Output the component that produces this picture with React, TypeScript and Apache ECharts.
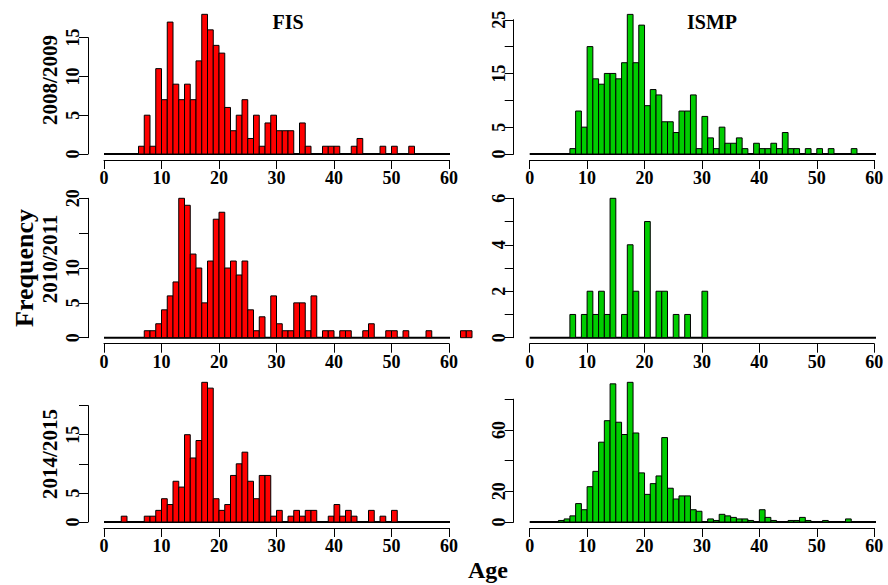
import React, { useEffect, useRef } from "react";
import * as echarts from "echarts";

// Histogram bins: [k, k+1) for k = 0..63 (ages 0 to 64)
const binRange = [0, 64];
const xTicks = [0, 10, 20, 30, 40, 50, 60];
const columnTitles = ["FIS", "ISMP"];
const rowTitles = ["2008/2009", "2010/2011", "2014/2015"];

// counts per bin, starting at bin 0
const fis0809 = [0, 0, 0, 0, 0, 0, 1, 5, 1, 11, 7, 17, 9, 7, 9, 7, 12, 18, 16, 14, 13, 6, 3, 5, 7, 2, 5, 1, 4, 5, 3, 3, 3, 0, 4, 1, 0, 0, 1, 1, 1, 0, 0, 1, 2, 0, 0, 0, 1, 0, 1, 0, 0, 1];
const ismp0809 = [0, 0, 0, 0, 0, 0, 0, 1, 8, 5, 20, 14, 13, 15, 15, 14, 17, 26, 17, 24, 9, 12, 11, 6, 6, 4, 8, 8, 11, 1, 7, 3, 1, 5, 2, 2, 3, 1, 0, 2, 1, 1, 2, 1, 4, 1, 1, 0, 1, 0, 1, 0, 1, 0, 0, 0, 1];
const fis1011 = [0, 0, 0, 0, 0, 0, 0, 1, 1, 2, 4, 6, 8, 20, 19, 12, 10, 5, 11, 17, 18, 10, 11, 9, 11, 4, 1, 3, 0, 6, 2, 1, 1, 5, 5, 1, 6, 0, 1, 1, 0, 1, 1, 0, 0, 1, 2, 0, 0, 1, 1, 0, 1, 0, 0, 0, 1, 0, 0, 0, 0, 0, 1, 1];
const ismp1011 = [0, 0, 0, 0, 0, 0, 0, 1, 0, 1, 2, 1, 2, 1, 6, 0, 1, 4, 2, 0, 5, 0, 2, 2, 0, 1, 0, 1, 0, 0, 2];
const fis1415 = [0, 0, 0, 1, 0, 0, 0, 1, 1, 2, 4, 3, 7, 6, 15, 11, 14, 24, 23, 4, 2, 3, 8, 10, 12, 7, 4, 8, 8, 1, 2, 0, 1, 2, 1, 2, 2, 0, 0, 1, 3, 1, 2, 1, 0, 0, 2, 0, 1, 0, 2];
const ismp1415 = [0, 0, 0, 0, 0, 1, 2, 4, 12, 8, 23, 33, 52, 66, 90, 65, 57, 91, 58, 32, 18, 25, 30, 55, 22, 15, 17, 17, 8, 7, 0, 2, 1, 5, 4, 3, 2, 2, 1, 0, 8, 3, 1, 0, 0, 1, 1, 3, 1, 0, 0, 1, 0, 0, 0, 2];

// y-axis ticks: max and step; labels that are printed
const yMaxes = [15, 25, 20, 6, 20, 80];
const ySteps = [5, 5, 5, 1, 5, 20];
const yShown = [
  [0, 5, 10, 15],
  [0, 5, 15, 25],
  [0, 5, 10, 20],
  [0, 2, 4, 6],
  [0, 5, 15],
  [0, 20, 60],
];

const panelCounts = [fis0809, ismp0809, fis1011, ismp1011, fis1415, ismp1415];

// layout (pixels)
const layout = [
  { left: 104, width: 345, top: 37.6, height: 116.4 },
  { left: 529.7, width: 344.5, top: 19.75, height: 134.25 },
  { left: 104, width: 345, top: 198.3, height: 139.4 },
  { left: 529.7, width: 344.5, top: 198.3, height: 139.4 },
  { left: 104, width: 345, top: 405.6, height: 116.4 },
  { left: 529.7, width: 344.5, top: 399.2, height: 122.8 },
];

const FONT = "'Liberation Serif', 'Times New Roman', serif";

export default function App() {
  const ref = useRef<HTMLDivElement>(null);

  useEffect(() => {
    if (!ref.current) return;
    const chart = echarts.init(ref.current, null, { renderer: "svg" });

    const grids: any[] = [];
    const xAxes: any[] = [];
    const yAxes: any[] = [];
    const series: any[] = [];

    panelCounts.forEach((counts, i) => {
      const L = layout[i];
      const color = i % 2 === 0 ? "#FF0000" : "#00CD00";
      grids.push({
        left: L.left,
        top: L.top,
        width: L.width,
        height: L.height,
        containLabel: false,
        outerBoundsMode: "none",
      });
      xAxes.push({
        type: "value",
        gridIndex: i,
        min: xTicks[0],
        max: xTicks[xTicks.length - 1],
        interval: 10,
        offset: 6,
        axisLine: { show: true, onZero: false, lineStyle: { color: "#000", width: 1 } },
        axisTick: { show: true, length: 9, lineStyle: { color: "#000", width: 1 } },
        axisLabel: {
          show: true,
          fontFamily: FONT,
          fontWeight: "bold",
          fontSize: 18,
          color: "#000",
          margin: 9,
        },
        splitLine: { show: false },
      });
      const shown = yShown[i];
      yAxes.push({
        type: "value",
        gridIndex: i,
        min: 0,
        max: yMaxes[i],
        interval: ySteps[i],
        offset: 16,
        axisLine: { show: true, onZero: false, lineStyle: { color: "#000", width: 1 } },
        axisTick: { show: true, length: 9, lineStyle: { color: "#000", width: 1 } },
        axisLabel: {
          show: true,
          rotate: 90,
          fontFamily: FONT,
          fontWeight: "bold",
          fontSize: 18,
          color: "#000",
          margin: 6,
          formatter: (v: number) => (shown.indexOf(v) >= 0 ? String(v) : ""),
        },
        splitLine: { show: false },
      });
      series.push({
        type: "line",
        xAxisIndex: i,
        yAxisIndex: i,
        data: [
          [binRange[0], 0],
          [binRange[1], 0],
        ],
        symbol: "none",
        clip: false,
        silent: true,
        z: 1,
        lineStyle: { color: "#000", width: 2 },
      });
      series.push({
        type: "custom",
        xAxisIndex: i,
        yAxisIndex: i,
        clip: false,
        z: 2,
        data: counts
          .map((c, k) => [k, c])
          .filter((d) => d[1] > 0),
        renderItem: (params: any, api: any) => {
          const k = api.value(0);
          const c = api.value(1);
          const p0 = api.coord([k, 0]);
          const p1 = api.coord([k + 1, c]);
          return {
            type: "rect",
            shape: {
              x: p0[0],
              y: p1[1],
              width: p1[0] - p0[0],
              height: p0[1] - p1[1],
            },
            style: { fill: color, stroke: "#000", lineWidth: 1 },
          };
        },
      });
    });

    const textStyle = (size: number) => ({
      fontFamily: FONT,
      fontWeight: "bold",
      fontSize: size,
      fill: "#000",
      textAlign: "center",
      textVerticalAlign: "middle",
    });

    const rowY = [80, 259, 454];

    const graphic: any[] = [
      { type: "text", x: 288, y: 22, style: { text: columnTitles[0], ...textStyle(20) } },
      { type: "text", x: 712, y: 22, style: { text: columnTitles[1], ...textStyle(20) } },
      ...rowTitles.map((t, r) => ({
        type: "text",
        x: 50,
        y: rowY[r],
        rotation: Math.PI / 2,
        style: { text: t, ...textStyle(21) },
      })),
      {
        type: "text",
        x: 24,
        y: 268,
        rotation: Math.PI / 2,
        style: { text: "Frequency", ...textStyle(26) },
      },
      { type: "text", x: 488, y: 570, style: { text: "Age", ...textStyle(24) } },
    ];

    chart.setOption({
      animation: false,
      backgroundColor: "#fff",
      grid: grids,
      xAxis: xAxes,
      yAxis: yAxes,
      series,
      graphic,
    });

    return () => chart.dispose();
  }, []);

  return (
    <div
      ref={ref}
      style={{ position: "absolute", left: 0, top: 0, width: 888, height: 585 }}
    />
  );
}
